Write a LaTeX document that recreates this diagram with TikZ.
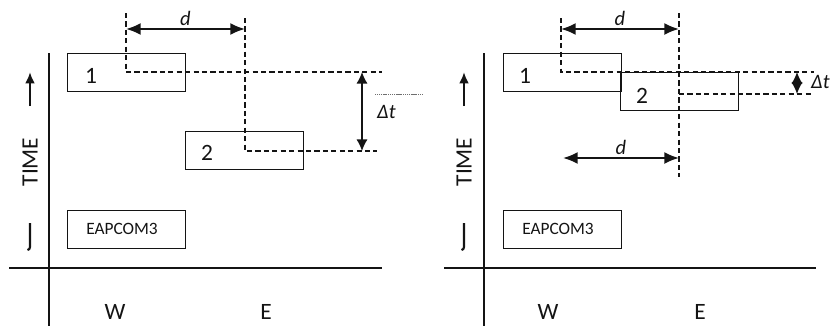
\documentclass[tikz,border=0pt]{standalone}
\usepackage{fontspec}
\setmainfont{Carlito}
\usetikzlibrary{arrows.meta}
\definecolor{inkgrey}{RGB}{20,20,20}
\definecolor{hairgrey}{RGB}{110,110,110}
\tikzset{
  block/.style={draw=inkgrey,line width=1.1pt,minimum width=35.4mm,
    minimum height=11.4mm,inner sep=0pt,anchor=north west},
  num/.style={font=\fontsize{20}{22}\selectfont,text=inkgrey},
  tag/.style={font=\fontsize{14.8}{16}\selectfont,text=inkgrey},
  dist/.style={font=\fontsize{17.5}{19}\selectfont\itshape,text=inkgrey},
  axis/.style={draw=inkgrey,line width=1.1pt},
  track/.style={draw=inkgrey,dash pattern=on 4.4pt off 2.8pt,line width=1.5pt},
  span/.style={{Latex[length=4.4mm,width=3.6mm]}-{Latex[length=4.4mm,width=3.6mm]},
    draw=inkgrey,line width=1.7pt},
  lag/.style={{Latex[length=3.5mm,width=3.4mm]}-{Latex[length=3.5mm,width=3.4mm]},
    draw=inkgrey,line width=1.3pt},
  clock/.style={-{Latex[length=3.4mm,width=2.9mm]},draw=inkgrey,line width=1.8pt}
}
\begin{document}
\begin{tikzpicture}[x=0.3mm,y=-0.3mm]
  \useasboundingbox (0,0) rectangle (831,329);
  % left panel
  \begin{scope}
    \draw[axis] (49,53) -- (49,326);
    \draw[axis] (9,268) -- (382,268);
    \node[num] (wL) at (115,312) {W};
    \node[num] (eL) at (266,312) {E};
    \node[num,rotate=90] (timeL) at (30,162) {TIME};
    \coordinate (upL0) at (30,106);
    \coordinate (upL1) at (30,72);
    \draw[clock] (upL0) -- (upL1);
    \draw[draw=inkgrey,line width=1.8pt] (30,223) -- (30,247) to[out=-90,in=0] (27.5,250);
    \node[block] (oneL) at (67,53) {};
    \node[block] (twoL) at (185,131) {};
    \node[block] (eapL) at (67,210) {};
    \node[num] at (91,76) {1};
    \node[num] at (207,153) {2};
    \node[tag] at (122,229) {EAPCOM3};
    \coordinate (aL) at (126,13);
    \coordinate (bL) at (245,18);
    \coordinate (aLend) at (382,72);
    \coordinate (bLend) at (377,151);
    \draw[track] (aL) |- (aLend);
    \draw[track] (bL) |- (bLend);
    \coordinate (dL0) at (126,29);
    \coordinate (dL1) at (245,29);
    \draw[span] (dL0) -- node[dist,above=-1pt] (dlabL) {d} (dL1);
    \coordinate (tL0) at (362,72);
    \coordinate (tL1) at (362,151);
    \draw[lag] (tL0) -- (tL1);
    \draw[hairgrey,line width=0.5pt,dash pattern=on 1pt off 0.6pt] (375,94) -- (423,94);
    \node[dist,anchor=west,inner sep=0pt] (dtL) at (377,112) {Δt};
  \end{scope}
  % right panel
  \begin{scope}
    \draw[axis] (484,53) -- (484,326);
    \draw[axis] (444,268) -- (816,268);
    \node[num] (wR) at (548,312) {W};
    \node[num] (eR) at (700,312) {E};
    \node[num,rotate=90] (timeR) at (464,162) {TIME};
    \coordinate (upR0) at (464,106);
    \coordinate (upR1) at (464,72);
    \draw[clock] (upR0) -- (upR1);
    \draw[draw=inkgrey,line width=1.8pt] (464,223) -- (464,247) to[out=-90,in=0] (461.5,250);
    \node[block] (oneR) at (503,53) {};
    \node[block] (twoR) at (620,72) {};
    \node[block] (eapR) at (503,210) {};
    \node[num] at (525,76) {1};
    \node[num] at (642,96) {2};
    \node[tag] at (558,229) {EAPCOM3};
    \coordinate (aR) at (561,18);
    \coordinate (aRend) at (814,72);
    \coordinate (bR) at (679,13);
    \coordinate (bRlow) at (679,177);
    \coordinate (bRmid) at (679,94);
    \coordinate (bRend) at (812,94);
    \draw[track] (aR) |- (aRend);
    \draw[track] (bR) -- (bRlow);
    \draw[track] (bRmid) -- (bRend);
    \coordinate (dR0) at (561,29);
    \coordinate (dR1) at (679,29);
    \draw[span] (dR0) -- node[dist,above=-1pt] (dlabR) {d} (dR1);
    \coordinate (eR0) at (563,158);
    \coordinate (eR1) at (679,158);
    \draw[span] (eR0) -- node[dist,above=-1pt] (elabR) {d} (eR1);
    \coordinate (tR0) at (797,72);
    \coordinate (tR1) at (797,94);
    \draw[lag] (tR0) -- (tR1);
    \node[dist,anchor=west,inner sep=0pt] (dtR) at (811,82) {Δt};
  \end{scope}
\end{tikzpicture}
\end{document}
